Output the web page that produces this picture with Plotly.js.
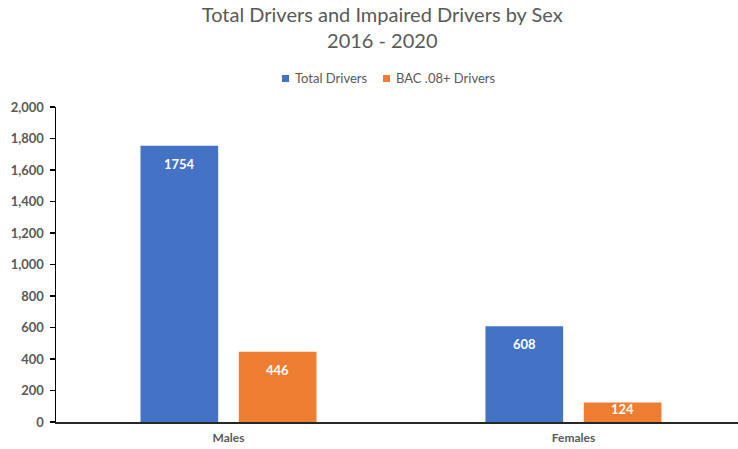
<!DOCTYPE html>
<html>
<head>
<meta charset="utf-8">
<script src="https://cdn.plot.ly/plotly-3.0.1.min.js"></script>
<style>
  html, body { margin: 0; padding: 0; background: #fff; }
  #chart { width: 738px; height: 449px; }
</style>
</head>
<body>
<div id="chart"></div>
<script>
// Driver counts by sex, 2016 - 2020
const categories = ['Males', 'Females'];
const totalDrivers = [1754, 608];
const bacDrivers = [446, 124];
const seriesNames = ['Total Drivers', 'BAC .08+ Drivers'];
const yTickValues = [0, 200, 400, 600, 800, 1000, 1200, 1400, 1600, 1800, 2000];

const BLUE = '#4472C4';
const ORANGE = '#ED7D31';
const GREY = '#595959';
const FONT = 'Lato, "Open Sans", "Liberation Sans", sans-serif';
const colors = [BLUE, ORANGE];

const traces = [
  { type: 'bar', name: seriesNames[0], x: categories, y: totalDrivers,
    marker: { color: BLUE }, hoverinfo: 'none', showlegend: false },
  { type: 'bar', name: seriesNames[1], x: categories, y: bacDrivers,
    marker: { color: ORANGE }, hoverinfo: 'none', showlegend: false }
];

// Value labels placed inside the top of each bar
const bargap = 0.43, bargroupgap = 0.21;
const slot = (1 - bargap) / 2;
const annotations = [];
[totalDrivers, bacDrivers].forEach((vals, si) => {
  vals.forEach((v, ci) => {
    const small = v < 250;
    annotations.push({
      xref: 'x', yref: 'y',
      x: ci + (si - 0.5) * slot,
      y: small ? v / 2 : v,
      yanchor: small ? 'middle' : 'top',
      yshift: small ? 3 : -8,
      text: '<b>' + v + '</b>',
      showarrow: false,
      font: { family: FONT, size: 13, color: '#ffffff' }
    });
  });
});

// Compact legend above the plot: small square swatch + series name
const legendX = [0.3314, 0.4795];
const swatch = 0.0103;
const shapes = [];
seriesNames.forEach((name, i) => {
  shapes.push({
    type: 'rect', xref: 'paper', yref: 'paper',
    x0: legendX[i], x1: legendX[i] + swatch, y0: 1.0794, y1: 1.1016,
    fillcolor: colors[i], line: { width: 0 }
  });
  annotations.push({
    xref: 'paper', yref: 'paper', x: legendX[i] + swatch + 0.0059, y: 1.092,
    xanchor: 'left', yanchor: 'middle', showarrow: false,
    text: name, font: { family: FONT, size: 13, color: GREY }
  });
});

const layout = {
  width: 738, height: 449,
  margin: { l: 56, r: 0, t: 107, b: 27, pad: 0 },
  paper_bgcolor: '#ffffff', plot_bgcolor: '#ffffff',
  font: { family: FONT, color: GREY },
  title: {
    text: 'Total Drivers and Impaired Drivers by Sex<br>2016 - 2020',
    x: 0.518, xref: 'container', xanchor: 'center',
    y: 0.952, yref: 'container', yanchor: 'middle',
    font: { family: FONT, size: 20, color: GREY }
  },
  barmode: 'group',
  bargap: bargap,
  bargroupgap: bargroupgap,
  showlegend: false,
  xaxis: {
    type: 'category', range: [-0.5, 1.477],
    showline: true, linecolor: '#262626', linewidth: 2,
    ticks: '', showgrid: false, zeroline: false, ticklabelstandoff: 4,
    tickfont: { family: FONT, size: 12, color: GREY, weight: 'bold' }
  },
  yaxis: {
    range: [0, 2000], tickvals: yTickValues, tickformat: ',d',
    showline: true, linecolor: '#000000', linewidth: 1.5,
    ticks: 'outside', ticklen: 5, tickcolor: '#000000', tickwidth: 1.5,
    showgrid: false, zeroline: false, ticklabelstandoff: 3,
    tickfont: { family: FONT, size: 13, color: GREY, weight: 'bold' }
  },
  shapes: shapes,
  annotations: annotations
};

Plotly.newPlot('chart', traces, layout, { staticPlot: true, displayModeBar: false });
</script>
</body>
</html>
